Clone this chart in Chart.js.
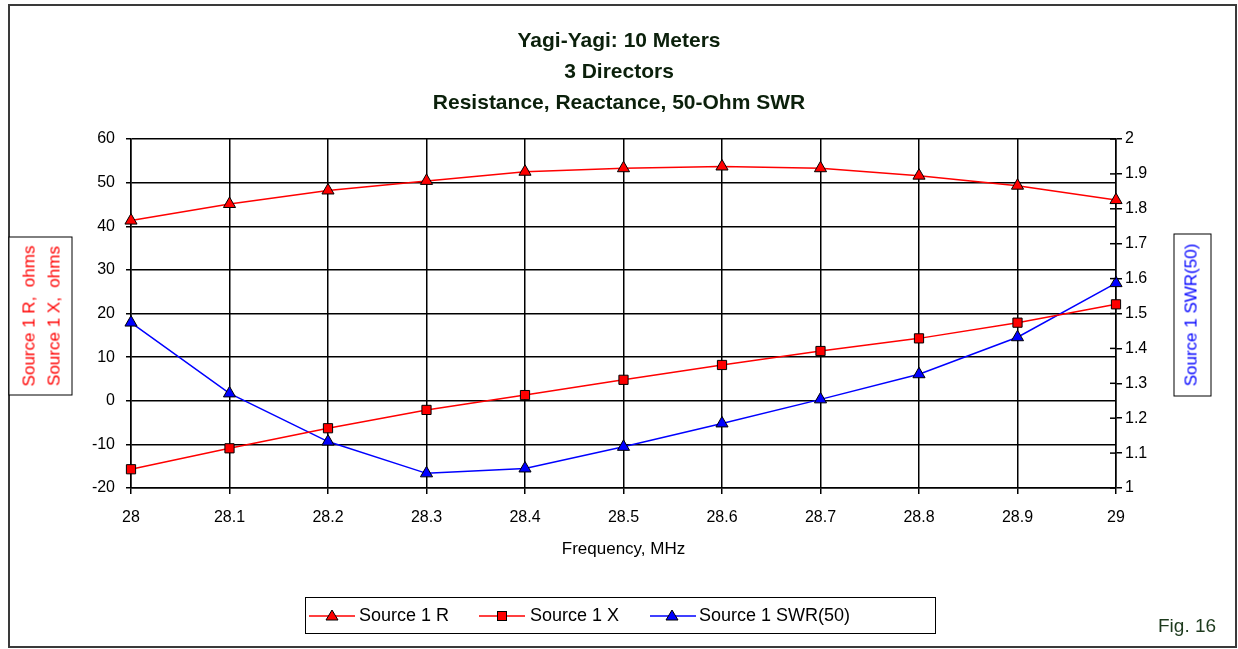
<!DOCTYPE html>
<html>
<head>
<meta charset="utf-8">
<title>Yagi-Yagi: 10 Meters</title>
<script src="https://cdn.jsdelivr.net/npm/chart.js@4"></script>
<style>
  html, body { margin: 0; padding: 0; background: #fff; }
  #wrap { position: relative; width: 1238px; height: 649px; font-family: "Liberation Sans", Arial, sans-serif; }
  #chart { position: absolute; left: 0; top: 0; }
  .abs { position: absolute; white-space: nowrap; }
  #frame { left: 8px; top: 4px; width: 1229px; height: 644px; border: 2px solid #3a3a3a; box-sizing: border-box; }
  .title { left: 0; width: 1238px; text-align: center; font-weight: bold; font-size: 21px; color: #0b200b; line-height: 24px; }
  .axbox { border: 1.5px solid #000; box-sizing: border-box; transform: rotate(-90deg); text-align: center; font-size: 17px; background: #fff; }
  #legend { left: 305px; top: 597px; width: 631px; height: 37px; border: 1.5px solid #000; box-sizing: border-box; }
  .lgtext { font-size: 18px; color: #000; top: 605px; line-height: 20px; }
  .lgsym { top: 607px; }
  #fig { left: 1158px; top: 615px; font-size: 19px; color: #1d3a1d; line-height: 22px; }
</style>
</head>
<body>
<div id="wrap">
  <canvas id="chart" width="1238" height="649"></canvas>
  <div id="frame" class="abs"></div>

  <div class="abs title" style="top:28px">Yagi-Yagi: 10 Meters</div>
  <div class="abs title" style="top:59px">3 Directors</div>
  <div class="abs title" style="top:90px">Resistance, Reactance, 50-Ohm SWR</div>

  <div class="abs axbox" style="left:-39.5px; top:283.5px; width:159px; height:64px; color:#ff0000; line-height:25px; padding-top:7px;">Source 1 R,&nbsp; ohms<br>Source 1 X,&nbsp; ohms</div>
  <div class="abs axbox" style="left:1110.5px; top:295.5px; width:163px; height:38px; color:#0000ff; line-height:34px;">Source 1 SWR(50)</div>

  <div id="legend" class="abs"></div>
  <svg class="abs lgsym" style="left:309px" width="46" height="18">
    <line x1="0" y1="9" x2="46" y2="9" stroke="#ff0000" stroke-width="1.5"/>
    <polygon points="23,3 29,13 17,13" fill="#ff0000" stroke="#000" stroke-width="1"/>
  </svg>
  <div class="abs lgtext" style="left:359px">Source 1 R</div>
  <svg class="abs lgsym" style="left:479px" width="46" height="18">
    <line x1="0" y1="9" x2="46" y2="9" stroke="#ff0000" stroke-width="1.5"/>
    <rect x="18.5" y="4.5" width="9" height="9" fill="#ff0000" stroke="#000" stroke-width="1"/>
  </svg>
  <div class="abs lgtext" style="left:530px">Source 1 X</div>
  <svg class="abs lgsym" style="left:650px" width="46" height="18">
    <line x1="0" y1="9" x2="46" y2="9" stroke="#0000ff" stroke-width="1.5"/>
    <polygon points="22,3 28,13 16,13" fill="#0000ff" stroke="#000" stroke-width="1"/>
  </svg>
  <div class="abs lgtext" style="left:699px">Source 1 SWR(50)</div>

  <div id="fig" class="abs">Fig. 16</div>
</div>

<script>
// frequencies (MHz)
const freqs = ['28', '28.1', '28.2', '28.3', '28.4', '28.5', '28.6', '28.7', '28.8', '28.9', '29'];

const resistance = [41.3, 45.1, 48.2, 50.4, 52.5, 53.3, 53.7, 53.3, 51.6, 49.3, 46.0];
const reactance = [-15.7, -10.9, -6.3, -2.1, 1.3, 4.8, 8.2, 11.4, 14.3, 17.9, 22.1];
const swr = [1.474, 1.271, 1.133, 1.042, 1.056, 1.118, 1.185, 1.254, 1.326, 1.432, 1.587];

const leftTicks = [-20, -10, 0, 10, 20, 30, 40, 50, 60];
const rightTicks = [1, 1.1, 1.2, 1.3, 1.4, 1.5, 1.6, 1.7, 1.8, 1.9, 2];

const tickFont = { family: 'Liberation Sans, Arial, sans-serif', size: 16 };

// right axis tick marks also cross into the plot, like the original
const innerTicks = {
  id: 'innerTicks',
  afterDatasetsDraw(chart) {
    const s = chart.scales.y1;
    const ctx = chart.ctx;
    ctx.save();
    ctx.strokeStyle = '#000';
    ctx.lineWidth = 1.5;
    s.ticks.forEach((t, i) => {
      const y = s.getPixelForTick(i);
      ctx.beginPath();
      ctx.moveTo(s.left - 6, y);
      ctx.lineTo(s.left, y);
      ctx.stroke();
    });
    ctx.restore();
  }
};

const ctx = document.getElementById('chart').getContext('2d');
const chart = new Chart(ctx, {
  type: 'line',
  data: {
    labels: freqs,
    datasets: [
      {
        label: 'Source 1 R',
        data: resistance,
        yAxisID: 'y',
        borderColor: '#ff0000',
        borderWidth: 1.5,
        backgroundColor: '#ff0000',
        pointStyle: 'triangle',
        pointRadius: 7,
        pointBorderColor: '#000',
        pointBorderWidth: 1,
        tension: 0
      },
      {
        label: 'Source 1 X',
        data: reactance,
        yAxisID: 'y',
        borderColor: '#ff0000',
        borderWidth: 1.5,
        backgroundColor: '#ff0000',
        pointStyle: 'rect',
        pointRadius: 6.5,
        pointBorderColor: '#000',
        pointBorderWidth: 1,
        tension: 0
      },
      {
        label: 'Source 1 SWR(50)',
        data: swr,
        yAxisID: 'y1',
        borderColor: '#0000ff',
        borderWidth: 1.5,
        backgroundColor: '#0000ff',
        pointStyle: 'triangle',
        pointRadius: 7,
        pointBorderColor: '#000',
        pointBorderWidth: 1,
        tension: 0
      }
    ]
  },
  options: {
    responsive: false,
    animation: false,
    layout: { padding: { left: 71, right: 62, top: 139, bottom: 89 } },
    plugins: {
      legend: { display: false },
      title: { display: false },
      tooltip: { enabled: false }
    },
    scales: {
      x: {
        type: 'category',
        offset: false,
        afterFit: (s) => { s.height = 72; },
        grid: { color: '#000', lineWidth: 1.5, tickLength: 6 },
        border: { color: '#000', width: 1.5 },
        ticks: { color: '#000', font: tickFont, padding: 14, maxRotation: 0, autoSkip: false },
        title: {
          display: true,
          text: 'Frequency, MHz',
          color: '#000',
          font: { family: 'Liberation Sans, Arial, sans-serif', size: 17 },
          padding: 0
        }
      },
      y: {
        position: 'left',
        min: leftTicks[0],
        max: leftTicks[leftTicks.length - 1],
        afterFit: (s) => { s.width = 60; },
        afterBuildTicks: (s) => { s.ticks = leftTicks.map(v => ({ value: v })); },
        grid: { color: '#000', lineWidth: 1.5, tickLength: 5 },
        border: { color: '#000', width: 1.5 },
        ticks: { color: '#000', font: tickFont, padding: 11 }
      },
      y1: {
        position: 'right',
        min: rightTicks[0],
        max: rightTicks[rightTicks.length - 1],
        afterFit: (s) => { s.width = 60; },
        afterBuildTicks: (s) => { s.ticks = rightTicks.map(v => ({ value: v })); },
        grid: { drawOnChartArea: false, color: '#000', lineWidth: 1.5, tickLength: 6 },
        border: { color: '#000', width: 1.5 },
        ticks: {
          color: '#000',
          font: tickFont,
          padding: 3,
          callback: (v) => String(Number(v.toFixed(1)))
        }
      }
    }
  },
  plugins: [innerTicks]
});
</script>
</body>
</html>
